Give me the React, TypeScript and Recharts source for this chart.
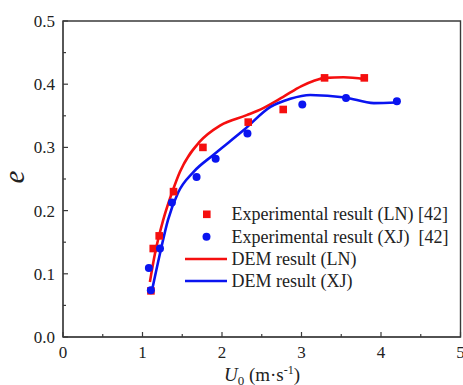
import React from "react";
import {
  ComposedChart,
  Line,
  Scatter,
  XAxis,
  YAxis,
  ReferenceArea,
} from "recharts";

// experimental points, LN (red squares)
const lnExpX = [1.106, 1.135, 1.21, 1.39, 1.76, 2.33, 2.77, 3.29, 3.79];
const lnExpY = [0.073, 0.14, 0.16, 0.23, 0.3, 0.34, 0.36, 0.41, 0.41];

// experimental points, XJ (blue circles)
const xjExpX = [1.08, 1.105, 1.22, 1.37, 1.68, 1.92, 2.32, 3.01, 3.56, 4.2];
const xjExpY = [0.109, 0.074, 0.14, 0.213, 0.253, 0.282, 0.322, 0.368, 0.378, 0.373];

// DEM curves
const lnDemX = [1.093, 1.157, 1.26, 1.39, 1.47, 1.72, 1.98, 2.31, 2.5, 2.77, 3.0, 3.15, 3.3, 3.53, 3.8];
const lnDemY = [0.087, 0.132, 0.185, 0.235, 0.261, 0.309, 0.335, 0.351, 0.361, 0.38, 0.397, 0.405, 0.41, 0.411, 0.408];

const xjDemX = [1.115, 1.22, 1.32, 1.45, 1.64, 1.89, 2.27, 2.61, 2.86, 3.11, 3.55, 3.91, 4.2];
const xjDemY = [0.071, 0.132, 0.185, 0.229, 0.261, 0.288, 0.327, 0.364, 0.377, 0.383, 0.379, 0.37, 0.371];

const xTicks = [0, 0.5, 1, 1.5, 2, 2.5, 3, 3.5, 4, 4.5, 5];
const yTicks = [0, 0.05, 0.1, 0.15, 0.2, 0.25, 0.3, 0.35, 0.4, 0.45, 0.5];

const legendLabels = [
  "Experimental result (LN) [42]",
  "Experimental result (XJ)\u00a0 [42]",
  "DEM result (LN)",
  "DEM result (XJ)",
];

const RED = "#f50f0f";
const BLUE = "#0a14f0";
const AXIS = "#3a3a3a";
const serif = { fontFamily: "Liberation Serif, DejaVu Serif, serif" };

const zip = (xs: number[], ys: number[]) => xs.map((x, i) => ({ x, y: ys[i] }));

const lnExp = zip(lnExpX, lnExpY);
const xjExp = zip(xjExpX, xjExpY);
const lnDem = zip(lnDemX, lnDemY);
const xjDem = zip(xjDemX, xjDemY);

const XTick = (props: any) => {
  const { x, y, payload } = props;
  const major = Number.isInteger(payload.value);
  return (
    <g>
      <line x1={x} x2={x} y1={y} y2={y - (major ? 5 : 3)} stroke={AXIS} strokeWidth={1.2} />
      {major && (
        <text x={x} y={y + 21} textAnchor="middle" style={serif} fontSize={17} fill="#222">
          {payload.value}
        </text>
      )}
    </g>
  );
};

const YTick = (props: any) => {
  const { x, y, payload } = props;
  const v = Math.round(payload.value * 100);
  const major = v % 10 === 0;
  return (
    <g>
      <line x1={x} x2={x + (major ? 5 : 3)} y1={y} y2={y} stroke={AXIS} strokeWidth={1.2} />
      {major && (
        <text x={x - 8} y={y + 6} textAnchor="end" style={serif} fontSize={17} fill="#222">
          {payload.value.toFixed(1)}
        </text>
      )}
    </g>
  );
};

const Square = (props: any) => {
  const { cx, cy } = props;
  return <rect x={cx - 3.8} y={cy - 3.8} width={7.6} height={7.6} fill={RED} />;
};

const Dot = (props: any) => {
  const { cx, cy } = props;
  return <circle cx={cx} cy={cy} r={4} fill={BLUE} />;
};

export default function App() {
  const rowY = [214.3, 236.7, 259, 281];
  return (
    <div style={{ position: "absolute", left: 0, top: 0, width: 463, height: 385, background: "#fff" }}>
      <ComposedChart width={463} height={385} margin={{ top: 21, right: 2.5, left: 0, bottom: 0 }}>
        <XAxis
          type="number"
          dataKey="x"
          domain={[0, 5]}
          ticks={xTicks}
          interval={0}
          tickLine={false}
          tickSize={0}
          tickMargin={0}
          tick={<XTick />}
          height={48}
          stroke={AXIS}
          allowDataOverflow
        />
        <YAxis
          type="number"
          dataKey="y"
          domain={[0, 0.5]}
          ticks={yTicks}
          interval={0}
          tickLine={false}
          tickSize={0}
          tickMargin={0}
          tick={<YTick />}
          width={63}
          stroke={AXIS}
          allowDataOverflow
        />
        <ReferenceArea x1={0} x2={5} y1={0} y2={0.5} fill="none" stroke={AXIS} strokeWidth={1.4} />
        <Line
          data={lnDem}
          dataKey="y"
          type="monotone"
          stroke={RED}
          strokeWidth={2.6}
          dot={false}
          isAnimationActive={false}
        />
        <Line
          data={xjDem}
          dataKey="y"
          type="monotone"
          stroke={BLUE}
          strokeWidth={2.6}
          dot={false}
          isAnimationActive={false}
        />
        <Scatter data={lnExp} dataKey="y" shape={<Square />} isAnimationActive={false} />
        <Scatter data={xjExp} dataKey="y" shape={<Dot />} isAnimationActive={false} />
      </ComposedChart>
      <svg
        width={463}
        height={385}
        style={{ position: "absolute", left: 0, top: 0, pointerEvents: "none" }}
      >
        {/* legend */}
        <rect x={203} y={rowY[0] - 3.8} width={7.6} height={7.6} fill={RED} />
        <circle cx={206.5} cy={rowY[1]} r={4} fill={BLUE} />
        <line x1={185} x2={227} y1={rowY[2]} y2={rowY[2]} stroke={RED} strokeWidth={2.6} />
        <line x1={185} x2={227} y1={rowY[3]} y2={rowY[3]} stroke={BLUE} strokeWidth={2.6} />
        {legendLabels.map((t, i) => (
          <text key={t} x={231.5} y={rowY[i] + 6} style={serif} fontSize={18} fill="#222">
            {t}
          </text>
        ))}
        {/* axis titles */}
        <text
          x={24}
          y={177}
          transform="rotate(-90 24 177)"
          textAnchor="middle"
          style={serif}
          fontStyle="italic"
          fontSize={29}
          fill="#222"
        >
          e
        </text>
        <text x={262} y={381} textAnchor="middle" style={serif} fontSize={19} fill="#222">
          <tspan fontStyle="italic">U</tspan>
          <tspan fontSize={13} dy={4}>0</tspan>
          <tspan dy={-4}> (m·s</tspan>
          <tspan fontSize={12} dy={-7}>-1</tspan>
          <tspan dy={7}>)</tspan>
        </text>
      </svg>
    </div>
  );
}
